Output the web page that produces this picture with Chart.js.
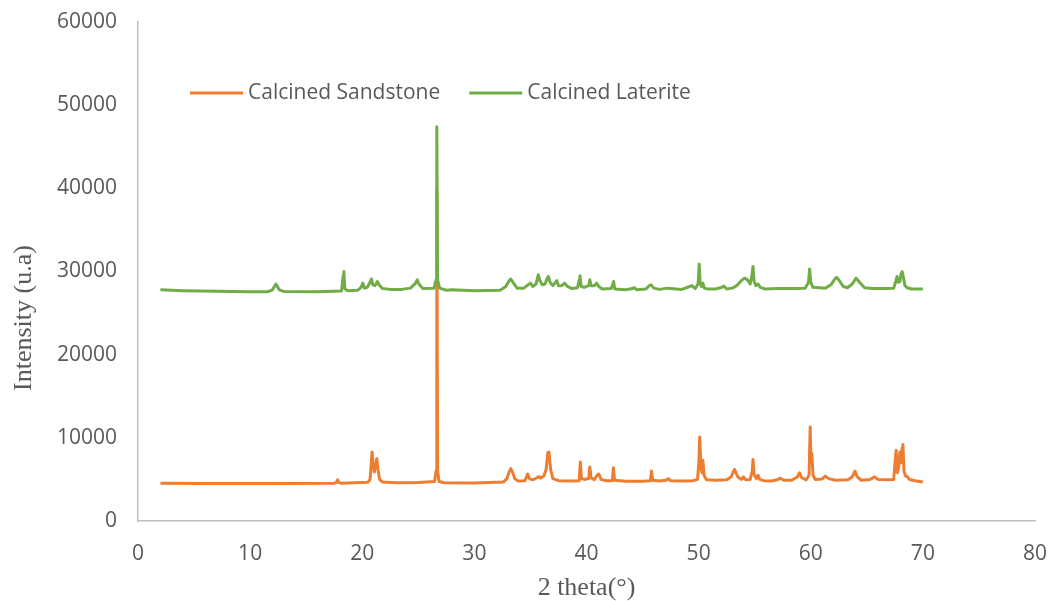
<!DOCTYPE html>
<html>
<head>
<meta charset="utf-8">
<title>XRD patterns</title>
<script src="https://cdn.jsdelivr.net/npm/chart.js@4/dist/chart.umd.min.js"></script>
<style>
  html, body { margin: 0; padding: 0; background: #fff; }
  #xrdChart { display: block; }
</style>
</head>
<body>
<canvas id="xrdChart" width="1048" height="601"></canvas>
<script>
// Diffraction angles (2 theta, degrees) and intensities for each sample
const sandstoneTheta = [
  2.0, 6, 12, 17.5, 17.7, 17.8, 17.9, 18.1,
  20.5, 20.7, 20.82, 20.88, 20.98, 21.08, 21.2, 21.3, 21.4, 21.55, 21.8,
  23, 25, 26.45, 26.58, 26.65, 26.72, 26.85, 27.3,
  30, 32.6, 32.9, 33.1, 33.25, 33.4, 33.6, 33.9,
  34.5, 34.65, 34.75, 34.9, 35.2, 35.6, 35.75, 35.9, 36.2, 36.4, 36.55, 36.65, 36.8, 37.0, 37.5,
  38.5, 39.35, 39.45, 39.55, 39.8, 40.2, 40.3, 40.4, 40.7, 40.95, 41.1, 41.3, 41.8,
  42.3, 42.4, 42.5, 43.5, 45.0, 45.7, 45.8, 45.9, 46.5, 47.1, 47.3, 47.5, 48.5,
  49.5, 49.9, 50.02, 50.1, 50.2, 50.3, 50.38, 50.48, 50.7, 51.5, 52.5,
  52.9, 53.2, 53.5, 53.8, 54.0, 54.2, 54.6, 54.78, 54.85, 54.95, 55.15, 55.3, 55.45, 55.8,
  56.5, 57.0, 57.3, 57.6, 58.3, 58.8, 59.0, 59.2, 59.6, 59.85, 59.95, 60.03, 60.1, 60.2, 60.4,
  61.0, 61.3, 61.6, 62.2, 63.3, 63.7, 63.95, 64.15, 64.5, 65.3, 65.7, 66.0, 66.8,
  67.4, 67.55, 67.62, 67.72, 67.85, 67.95, 68.05, 68.15, 68.22, 68.32, 68.45, 68.6, 68.8, 69.3, 70,
];
const sandstoneCounts = [
  4550, 4520, 4500, 4540, 4650, 4950, 4650, 4550,
  4650, 5000, 7200, 8300, 6500, 5900, 6800, 7500, 6200, 5000, 4700,
  4600, 4620, 4750, 6000, 40000, 6000, 4750, 4600,
  4570, 4700, 5100, 5900, 6300, 5900, 5100, 4800,
  4850, 5300, 5650, 5100, 4950, 5200, 5350, 5150, 5400, 6200, 8200, 8300, 6200, 5100, 4850,
  4800, 4850, 7100, 5100, 5000, 5100, 6500, 5200, 4950, 5500, 5650, 5000, 4850,
  4850, 6400, 4900, 4780, 4780, 4850, 6000, 4900, 4800, 4900, 5100, 4850, 4800,
  4850, 5000, 7000, 10100, 6500, 5800, 7300, 5500, 4950, 4900, 4950,
  5300, 6200, 5300, 5000, 5300, 4950, 5000, 6000, 7400, 5600, 5100, 5500, 5000, 4850,
  4800, 4950, 5150, 4900, 4900, 5300, 5800, 5200, 4950, 5500, 11300, 7000, 8100, 5500, 5000,
  5050, 5400, 5100, 4900, 4950, 5300, 6000, 5300, 4900, 5000, 5300, 5000, 4950,
  5000, 7500, 8500, 5800, 6500, 8300, 7000, 8800, 9200, 6000, 5400, 5350, 5000, 4850, 4700,
];

const lateriteTheta = [
  2.0, 4, 7, 10, 11.6, 12.0, 12.3, 12.6, 13, 16, 18.15, 18.3, 18.36, 18.45, 18.7,
  19.6, 19.9, 20.05, 20.2, 20.45, 20.7, 20.82, 20.95, 21.15, 21.35, 21.5, 21.8, 22.5,
  23.5, 24.3, 24.75, 24.9, 25.05, 25.4, 26.4, 26.58, 26.65, 26.72, 26.9, 27.5, 28,
  30, 32.3, 32.8, 33.1, 33.25, 33.45, 33.8, 34.4, 34.8, 35.0, 35.2, 35.5, 35.7, 35.85,
  36.05, 36.3, 36.5, 36.6, 36.75, 37.0, 37.25, 37.35, 37.5, 37.8, 38.05, 38.3, 38.7,
  39.2, 39.35, 39.42, 39.52, 39.8, 40.2, 40.3, 40.4, 40.7, 40.9, 41.1, 41.4,
  42.2, 42.35, 42.42, 42.52, 43.5, 44.1, 44.25, 44.5, 45.3, 45.6, 45.75, 46.0, 46.5,
  47.2, 48.5, 49.2, 49.4, 49.7, 49.95, 50.05, 50.14, 50.25, 50.38, 50.5, 50.8, 51.5,
  52.1, 52.25, 52.5, 53.0, 53.4, 53.8, 54.1, 54.35, 54.6, 54.75, 54.85, 54.95, 55.1,
  55.3, 55.5, 55.9, 57, 58.5, 59.5, 59.8, 59.9, 60.0, 60.2, 61.3, 61.8, 62.1, 62.3,
  62.5, 62.9, 63.3, 63.7, 64.05, 64.35, 64.8, 65.5, 66.5, 67.4, 67.6, 67.7, 67.8,
  67.95, 68.05, 68.15, 68.25, 68.4, 68.6, 69, 70,
];
const lateriteCounts = [
  27800, 27700, 27620, 27560, 27580, 27800, 28500, 27800, 27600, 27580, 27650, 29500, 30000, 27900, 27700,
  27750, 28100, 28600, 28000, 28100, 28700, 29100, 28400, 28300, 28800, 28400, 27950, 27850,
  27850, 28000, 28600, 29000, 28500, 27950, 28000, 29000, 47400, 29000, 28000, 27750, 27800,
  27700, 27750, 28200, 28900, 29100, 28700, 28000, 28000, 28400, 28600, 28200, 28500, 29600, 28900,
  28400, 28500, 29200, 29400, 28700, 28300, 28700, 28900, 28300, 28300, 28600, 28200, 27950,
  28050, 29000, 29500, 28200, 28100, 28300, 29000, 28300, 28300, 28600, 28200, 27900,
  27950, 28500, 28800, 27900, 27800, 27950, 28050, 27800, 27900, 28300, 28400, 28000, 27850,
  28000, 27850, 28200, 28300, 27950, 28500, 30900, 28600, 28200, 28600, 28000, 27900, 27900,
  28100, 28250, 27900, 28000, 28300, 28900, 29200, 29000, 28500, 29500, 30600, 28800, 28300,
  28500, 28100, 27900, 27950, 27950, 28000, 28700, 30300, 28700, 28100, 28000, 28400, 29000, 29300,
  29000, 28200, 28050, 28500, 29200, 28700, 28050, 27950, 27950, 28000, 28900, 29400, 28700,
  28800, 29700, 30000, 29400, 28300, 28050, 27900, 27900,
];

const xTicks = [0, 10, 20, 30, 40, 50, 60, 70, 80];
const yTicks = [0, 10000, 20000, 30000, 40000, 50000, 60000];
const yTitle = "Intensity (u.a)";

const sandstoneColor = "#ED7D31";
const lateriteColor = "#70AD47";
const textColor = "#595959";
const axisColor = "#BFBFBF";
const sansFont = "'Open Sans', 'Liberation Sans', sans-serif";
const serifFont = "'Liberation Serif', 'DejaVu Serif', serif";

function toPoints(thetas, counts) {
  return thetas.map((t, i) => ({ x: t, y: counts[i] }));
}

// Legend drawn inside the plot area, top left
const innerLegend = {
  id: "innerLegend",
  afterDraw(chart) {
    const ctx = chart.ctx;
    const area = chart.chartArea;
    let x = area.left + 52;
    const y = area.top + 71;
    ctx.save();
    ctx.font = "21px " + sansFont;
    ctx.textBaseline = "middle";
    ctx.textAlign = "left";
    chart.data.datasets.forEach((ds) => {
      ctx.strokeStyle = ds.borderColor;
      ctx.lineWidth = 3;
      ctx.beginPath();
      ctx.moveTo(x, y);
      ctx.lineTo(x + 53, y);
      ctx.stroke();
      x += 58;
      ctx.fillStyle = textColor;
      ctx.fillText(ds.label, x, y);
      x += ctx.measureText(ds.label).width + 29;
    });
    ctx.restore();
  },
};

// Y axis title sits a bit below the middle of the plot
const yAxisTitle = {
  id: "yAxisTitle",
  afterDraw(chart) {
    const ctx = chart.ctx;
    ctx.save();
    ctx.translate(24, 318);
    ctx.rotate(-Math.PI / 2);
    ctx.font = "26px " + serifFont;
    ctx.fillStyle = textColor;
    ctx.textAlign = "center";
    ctx.textBaseline = "middle";
    ctx.fillText(yTitle, 0, 0);
    ctx.restore();
  },
};

// keep tick labels from pushing the plot area inwards
function noLabelPadding(scale) {
  scale.paddingTop = 0;
  scale.paddingBottom = 0;
  scale.paddingLeft = 0;
  scale.paddingRight = 0;
}

const ctx = document.getElementById("xrdChart").getContext("2d");

const lineStyle = {
  borderWidth: 3,
  borderJoinStyle: "round",
  pointRadius: 0,
  tension: 0,
};

new Chart(ctx, {
  type: "line",
  data: {
    datasets: [
      {
        label: "Calcined Sandstone",
        data: toPoints(sandstoneTheta, sandstoneCounts),
        borderColor: sandstoneColor,
        backgroundColor: sandstoneColor,
        order: 2,
        ...lineStyle,
      },
      {
        label: "Calcined Laterite",
        data: toPoints(lateriteTheta, lateriteCounts),
        borderColor: lateriteColor,
        backgroundColor: lateriteColor,
        order: 1,
        ...lineStyle,
      },
    ],
  },
  options: {
    responsive: false,
    animation: false,
    devicePixelRatio: 1,
    layout: { padding: { top: 22, right: 13, bottom: 0, left: 0 } },
    plugins: {
      legend: { display: false },
      tooltip: { enabled: false },
    },
    scales: {
      x: {
        type: "linear",
        min: xTicks[0],
        max: xTicks[xTicks.length - 1],
        afterBuildTicks: (scale) => {
          scale.ticks = xTicks.map((v) => ({ value: v }));
        },
        afterFit: (scale) => {
          scale.height = 80;
          noLabelPadding(scale);
        },
        grid: { display: false, drawTicks: false },
        border: { display: true, color: axisColor, width: 1.5 },
        ticks: {
          color: textColor,
          padding: 20,
          maxRotation: 0,
          font: { family: sansFont, size: 21 },
        },
        title: {
          display: true,
          text: "2 theta(°)",
          color: textColor,
          padding: { top: 0, bottom: 0 },
          font: { family: serifFont, size: 26, lineHeight: 1 },
        },
      },
      y: {
        type: "linear",
        min: yTicks[0],
        max: yTicks[yTicks.length - 1],
        afterBuildTicks: (scale) => {
          scale.ticks = yTicks.map((v) => ({ value: v }));
        },
        afterFit: (scale) => {
          scale.width = 138;
          noLabelPadding(scale);
        },
        grid: { display: false, drawTicks: false },
        border: { display: true, color: axisColor, width: 1.5 },
        ticks: {
          color: textColor,
          padding: 21,
          font: { family: sansFont, size: 21 },
          callback: (v) => String(v),
        },
        title: { display: false },
      },
    },
  },
  plugins: [innerLegend, yAxisTitle],
});
</script>
</body>
</html>
